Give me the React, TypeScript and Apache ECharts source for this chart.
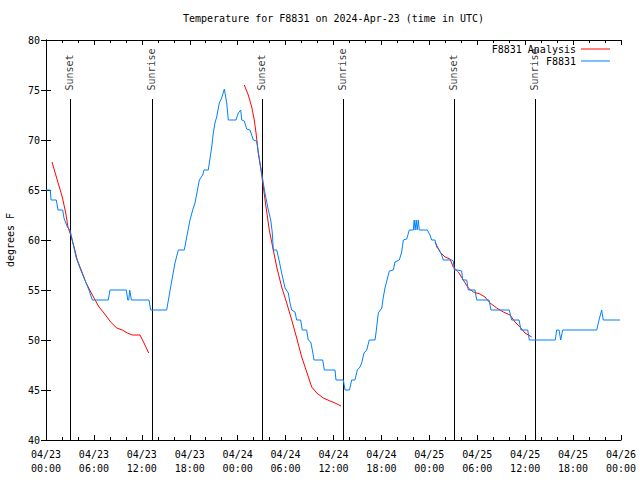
import React, { useEffect, useRef } from "react";
import * as echarts from "echarts";

// Hours since 2024-04-23 00:00 UTC
const blueHours = [0.0, 0.54, 0.63, 1.29, 1.5, 2.09, 2.25, 2.67, 3.01, 3.29, 3.79, 4.35, 4.97, 5.38, 5.8, 7.8, 8.01, 10.06, 10.24, 10.36, 10.48, 10.56, 10.7, 12.9, 13.11, 15.11, 15.61, 16.15, 16.57, 17.32, 17.62, 18.03, 18.44, 18.66, 19.2, 19.62, 19.78, 20.32, 20.75, 20.95, 21.16, 21.37, 21.7, 22.0, 22.33, 22.63, 22.83, 23.79, 24.08, 24.38, 24.51, 24.83, 25.13, 25.54, 25.76, 25.96, 26.38, 26.58, 26.8, 27.01, 27.21, 27.42, 27.84, 28.14, 28.34, 28.46, 28.89, 29.18, 29.51, 29.93, 30.34, 30.55, 30.77, 31.18, 31.39, 31.89, 32.09, 32.64, 32.84, 33.15, 33.35, 33.56, 34.65, 34.85, 36.19, 36.31, 37.23, 37.44, 38.0, 38.28, 38.69, 38.98, 39.32, 39.53, 39.82, 40.16, 40.48, 41.2, 41.32, 41.61, 42.04, 42.24, 42.45, 42.99, 43.49, 43.7, 44.24, 44.54, 44.74, 45.17, 45.49, 45.99, 46.1, 46.22, 46.36, 46.48, 46.62, 46.74, 47.75, 48.08, 48.3, 48.71, 48.92, 49.25, 49.55, 49.75, 50.8, 51.0, 51.13, 51.5, 52.05, 52.18, 52.68, 52.88, 53.72, 53.93, 55.47, 55.72, 58.01, 58.31, 59.23, 59.48, 60.32, 60.52, 63.77, 63.95, 64.24, 64.45, 64.7, 68.96, 69.25, 69.58, 69.78, 71.88];
const blueTemps = [65, 65, 64, 64, 63, 63, 62.2, 61.3, 61, 60, 58.2, 57, 55.8, 55, 54, 54, 55, 55, 54, 54, 55, 55, 54, 54, 53, 53, 55.3, 57.7, 59, 59, 60.3, 62, 63.2, 63.7, 66, 66.5, 67, 67, 69.3, 70.7, 71.7, 72.3, 73.7, 74.2, 75.1, 73.7, 72, 72, 72.7, 73, 72, 71.9, 71.1, 71, 70.5, 70, 69.9, 68.8, 67.7, 66.7, 65.7, 64.7, 63, 62, 60.7, 59, 59, 58, 56.7, 55.2, 54.7, 53.7, 53, 52.8, 52, 52, 51, 51, 50, 49.8, 49, 48, 48, 47, 47, 46, 46, 45, 45, 46, 46, 47, 47.3, 47.7, 48.7, 49, 50, 50, 50.7, 52.7, 53.2, 54.3, 55.2, 56.9, 57, 57.8, 58, 58.8, 60, 60.1, 61, 61, 62, 61, 62, 61, 62, 61, 61, 60.5, 60, 60, 59.3, 59, 58.5, 58, 58, 57.9, 57, 57, 56.9, 56, 56, 55, 55, 54, 54, 53, 53, 52, 52, 51, 51, 50, 50, 51, 51, 50, 51, 51, 52, 53, 52, 52];

// Analysis series; null marks a gap between segments
const redHours = [0.75, 1.41, 2.04, 2.47, 2.75, 3.09, 3.51, 3.92, 4.55, 4.97, 5.6, 6.01, 6.64, 7.26, 8.1, 8.85, 9.55, 10.18, 10.81, 11.77, 12.27, 12.86, 18.0, 24.83, 25.33, 25.76, 26.08, 26.3, 26.58, 26.92, 27.21, 27.55, 27.96, 28.46, 28.89, 29.51, 30.14, 30.77, 31.39, 32.02, 32.77, 33.27, 33.9, 34.72, 35.56, 36.19, 36.94, 42.0, 48.71, 49.34, 49.96, 50.59, 51.0, 51.63, 52.25, 52.88, 53.51, 54.35, 54.97, 55.6, 56.44, 57.26, 58.1, 58.73, 59.35, 59.98, 60.82];
const redTemps = [67.8, 66, 64.3, 62.7, 61.3, 60.5, 59.3, 58, 56.7, 55.8, 54.8, 54.2, 53.3, 52.7, 51.8, 51.2, 51, 50.7, 50.5, 50.5, 49.7, 48.7, null, 75.5, 74.5, 73.3, 72, 70.7, 68.7, 67, 65.3, 63.3, 61, 59, 57.3, 55.3, 53.7, 52, 50.2, 48.3, 46.5, 45.3, 44.7, 44.2, 43.9, 43.7, 43.4, null, 59.8, 58.8, 58.3, 58.1, 57.3, 56.8, 56, 55.2, 54.8, 54.6, 54.3, 53.7, 53.2, 52.8, 52.5, 51.8, 51.3, 50.7, 50.3];

const eventHours = [3.04, 13.31, 27.08, 37.23, 51.13, 61.27];
const eventNames = ["Sunset", "Sunrise", "Sunset", "Sunrise", "Sunset", "Sunrise"];

const MONO = "DejaVu Sans Mono";

export default function App() {
  const ref = useRef<HTMLDivElement>(null);
  useEffect(() => {
    if (!ref.current) return;
    const chart = echarts.init(ref.current, undefined, { renderer: "svg" });
    const pad = (n: number) => (n < 10 ? "0" + n : "" + n);
    const txt = { fontFamily: MONO, fontSize: 10, color: "#000" };
    const xCommon = {
      type: "value" as const,
      min: 0,
      max: 72,
      interval: 6,
      axisLine: { show: true, lineStyle: { color: "#000", width: 1 } },
      axisTick: { show: true, inside: true, length: 5, lineStyle: { color: "#000" } },
      minorTick: { show: true, splitNumber: 3, length: 3, lineStyle: { color: "#000" } },
      splitLine: { show: false },
    };
    const yCommon = {
      type: "value" as const,
      min: 40,
      max: 80,
      interval: 5,
      axisLine: { show: true, lineStyle: { color: "#000", width: 1 } },
      axisTick: { show: true, inside: true, length: 5, lineStyle: { color: "#000" } },
      splitLine: { show: false },
    };
    chart.setOption({
      animation: false,
      backgroundColor: "#fff",
      title: {
        text: "Temperature for F8831 on 2024-Apr-23 (time in UTC)",
        left: 183,
        top: 13,
        padding: 0,
        textStyle: { ...txt, fontWeight: "normal" },
      },
      legend: [
        {
          data: ["F8831 Analysis"],
          right: 30,
          top: 44,
          padding: 0,
          align: "right",
          icon: "rect",
          itemWidth: 29,
          itemHeight: 1,
          selectedMode: false,
          textStyle: txt,
        },
        {
          data: ["F8831"],
          right: 30,
          top: 56,
          padding: 0,
          align: "right",
          icon: "rect",
          itemWidth: 29,
          itemHeight: 1,
          selectedMode: false,
          textStyle: txt,
        },
      ],
      grid: { left: 46, right: 19, top: 40, bottom: 40, containLabel: false, outerBoundsMode: "none" },
      xAxis: [
        {
          ...xCommon,
          position: "bottom",
          axisLabel: {
            ...txt,
            margin: 7,
            lineHeight: 14,
            formatter: (v: number) => {
              const d = 23 + Math.floor(v / 24);
              const h = v % 24;
              return `04/${d}\n${pad(h)}:00`;
            },
          },
        },
        { ...xCommon, position: "top", axisLabel: { show: false } },
      ],
      yAxis: [
        {
          ...yCommon,
          position: "left",
          name: "degrees F",
          nameLocation: "middle",
          nameRotate: 90,
          nameGap: 31,
          nameTextStyle: txt,
          axisLabel: { ...txt, margin: 6 },
        },
        { ...yCommon, position: "right", axisLabel: { show: false } },
      ],
      series: [
        {
          name: "events",
          type: "scatter",
          z: 1,
          symbol: "circle",
          symbolSize: 1,
          itemStyle: { color: "rgba(0,0,0,0)" },
          data: eventHours.map((h, i) => ({ value: [h, 74.8], name: eventNames[i] })),
          label: {
            show: true,
            formatter: "{b}",
            position: [0, 0],
            offset: [1, 0],
            rotate: 90,
            align: "left",
            verticalAlign: "middle",
            ...txt,
          },
          markLine: {
            silent: true,
            symbol: "none",
            z: 1,
            label: { show: false },
            lineStyle: { color: "#000", width: 1, type: "solid" },
            data: eventHours.map((h) => [{ coord: [h, 40] }, { coord: [h, 74.1] }]),
          },
        },
        {
          name: "F8831 Analysis",
          type: "line",
          z: 2,
          symbol: "none",
          connectNulls: false,
          color: "#ff0000",
          lineStyle: { color: "#ff0000", width: 1 },
          data: redHours.map((h, i) => [h, redTemps[i] === null ? "-" : redTemps[i]]),
        },
        {
          name: "F8831",
          type: "line",
          z: 3,
          symbol: "none",
          color: "#0080ff",
          lineStyle: { color: "#0080ff", width: 1 },
          data: blueHours.map((h, i) => [h, blueTemps[i]]),
        },
      ],
    });
    return () => chart.dispose();
  }, []);
  return (
    <div
      ref={ref}
      style={{ position: "fixed", left: 0, top: 0, width: 640, height: 480, background: "#fff" }}
    />
  );
}
